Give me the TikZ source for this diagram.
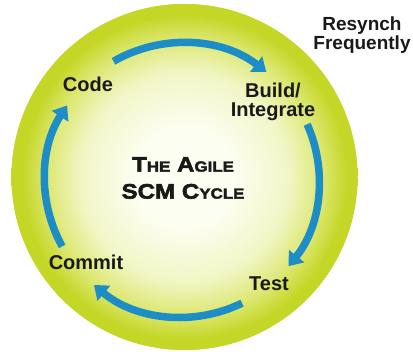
\documentclass[tikz,border=0pt]{standalone}
\usepackage{fontspec}
\setmainfont{Liberation Sans}
\newfontfamily\heavyfont{Liberation Sans Bold}[FakeBold=2.6,FakeStretch=1.15]
\usetikzlibrary{arrows.meta}
\definecolor{lime}{RGB}{196,214,38}
\definecolor{limeinner}{RGB}{253,254,242}
\definecolor{limepale}{RGB}{241,246,198}
\definecolor{limemid}{RGB}{220,231,112}
\definecolor{cycleblue}{RGB}{28,141,198}
\definecolor{ink}{RGB}{25,25,25}
\pgfdeclareradialshading{ballshade}{\pgfpoint{0bp}{0bp}}{color(0bp)=(limeinner); color(7bp)=(limeinner); color(15bp)=(limepale); color(20bp)=(limemid); color(23.5bp)=(lime); color(50bp)=(lime)}
\tikzset{
  lbl/.style={font=\fontsize{20}{20}\selectfont\bfseries, text=ink, align=center, inner sep=0pt},
  cyc/.style={draw=cycleblue, line width=7.5pt, -{Triangle[width=19pt,length=13pt]}},
}
\begin{document}
\begin{tikzpicture}[x=1pt,y=-1pt]
\useasboundingbox (0,0) rectangle (413,352);
\coordinate (ctr) at (184.5,177);
\fill[lime] (ctr) circle[radius=173];
\shade[shading=ballshade] (ctr) circle[radius=173];
\coordinate (ac) at (182,180);
% labels
\node[lbl] (code) at (88,84) {Code};
\node[lbl, font=\fontsize{20}{18.5}\selectfont\bfseries] (build) at (273,102) {Build/\\Integrate};
\node[lbl] (test) at (269,284) {Test};
\node[lbl] (commit) at (86,262) {Commit};
\node[lbl, font=\fontsize{19}{18.5}\selectfont\bfseries] (resync) at (362,35) {Resynch\\Frequently};
\node[inner sep=0pt, text=ink, align=center, font=\heavyfont\fontsize{21}{27}\selectfont] (title) at (183,178)
  {T{\fontsize{14.7}{14.7}\selectfont HE} A{\fontsize{14.7}{14.7}\selectfont GILE}\\SCM C{\fontsize{14.7}{14.7}\selectfont YCLE}};
% cycle arrows
\draw[cyc] (ac) ++(-120:137) arc[start angle=-120, end angle=-52, radius=137];
\draw[cyc] (ac) ++(-24:137) arc[start angle=-24, end angle=39, radius=137];
\draw[cyc] (ac) ++(64:137) arc[start angle=64, end angle=130, radius=137];
\draw[cyc] (ac) ++(151:137) arc[start angle=151, end angle=213, radius=137];
\end{tikzpicture}
\end{document}
